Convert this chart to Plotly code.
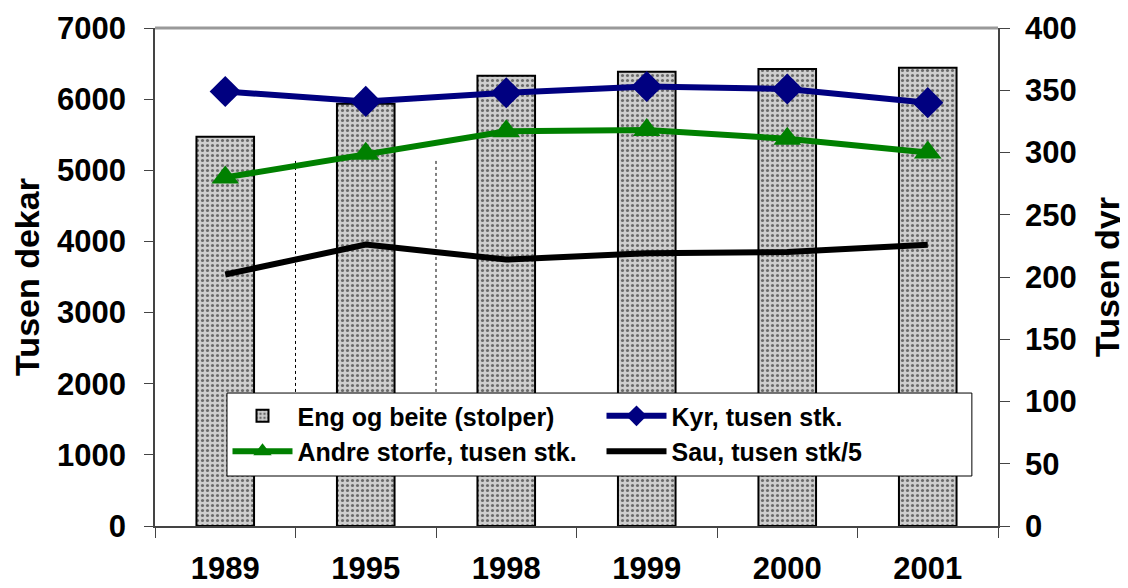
import plotly.graph_objects as go

years = ["1989", "1995", "1998", "1999", "2000", "2001"]
eng_beite = [5470, 5935, 6330, 6385, 6425, 6440]
kyr = [349, 341, 348, 353, 351, 340]
andre_storfe = [280, 299, 317, 318, 311, 300]
sau = [202, 226, 214, 219, 220, 226]

FONT = "Liberation Sans, Arial, sans-serif"
TICK_FONT = dict(family=FONT, size=31, color="black", weight="bold")

fig = go.Figure()

fig.add_trace(go.Bar(
    x=years, y=eng_beite, name="Eng og beite (stolper)",
    width=0.41,
    marker=dict(
        color="#c4c4c4",
        line=dict(color="black", width=2),
        pattern=dict(shape=".", size=5, solidity=0.3, fgcolor="#6a6a6a",
                     bgcolor="#cecece", fillmode="replace"),
    ),
))
fig.add_trace(go.Scatter(
    x=years, y=kyr, name="Kyr, tusen stk.", yaxis="y2",
    mode="lines+markers",
    line=dict(color="#000080", width=6),
    marker=dict(symbol="diamond", size=24, color="#000080"),
))
fig.add_trace(go.Scatter(
    x=years, y=andre_storfe, name="Andre storfe, tusen stk.", yaxis="y2",
    mode="lines+markers",
    line=dict(color="#008000", width=6),
    marker=dict(symbol="triangle-up", size=24, color="#008000"),
))
fig.add_trace(go.Scatter(
    x=years, y=sau, name="Sau, tusen stk/5", yaxis="y2",
    mode="lines",
    line=dict(color="black", width=6),
))

# stray dotted gridline remnants between the first categories
for xb in [0.5, 1.5]:
    fig.add_shape(type="line", xref="x", yref="y", x0=xb, x1=xb, y0=1800, y1=5150,
                  line=dict(color="black", width=1, dash="dot"), layer="below")

# legend box (wider than plotly's own legend frame)
fig.add_shape(type="rect", xref="paper", yref="paper", x0=0.0854, x1=0.969,
              y0=0.1004, y1=0.267, fillcolor="white",
              line=dict(color="black", width=1), layer="above")

fig.update_layout(
    width=1128, height=588,
    margin=dict(l=147, r=138, t=20, b=70),
    plot_bgcolor="white", paper_bgcolor="white",
    font=dict(family=FONT, size=28, color="black", weight="bold"),
    showlegend=True,
    legend=dict(
        orientation="h", x=0.086, y=0.267, xanchor="left", yanchor="top",
        entrywidth=299, entrywidthmode="pixels",
        font=dict(size=25, family=FONT, color="black", weight="bold"),
        bgcolor="rgba(0,0,0,0)", borderwidth=0,
        itemwidth=60, tracegroupgap=0,
    ),
    xaxis=dict(
        type="category", showline=True, linecolor="#444", linewidth=1.5,
        ticks="outside", ticklen=10, tickcolor="#444", tickson="boundaries",
        ticklabelstandoff=14, showgrid=False, mirror=False, automargin=False,
        tickfont=TICK_FONT,
    ),
    yaxis=dict(
        title=dict(text="Tusen dekar", standoff=20),
        range=[0, 7000], dtick=1000, showgrid=False, automargin=False,
        showline=True, linecolor="#444", linewidth=1.5,
        ticks="outside", ticklen=9, tickcolor="#444", zeroline=False,
        ticklabelstandoff=12, tickfont=TICK_FONT,
    ),
    yaxis2=dict(
        title=dict(text="Tusen dyr", standoff=20),
        range=[0, 400], dtick=50, overlaying="y", side="right", automargin=False,
        showgrid=False, showline=True, linecolor="#444", linewidth=1.5,
        ticks="outside", ticklen=10, tickcolor="#444", zeroline=False,
        ticklabelstandoff=9, tickfont=TICK_FONT,
    ),
)

# gray top border of plot area
fig.add_shape(type="line", xref="paper", yref="paper", x0=0, x1=1, y0=1, y1=1,
              line=dict(color="#999", width=3))

fig.write_html("out.html")
